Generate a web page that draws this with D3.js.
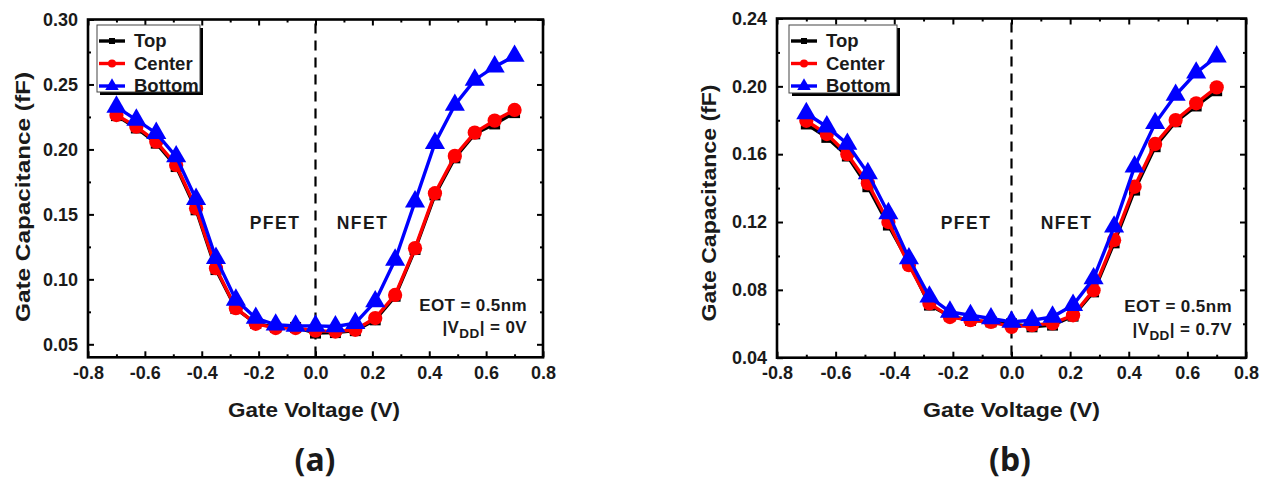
<!DOCTYPE html>
<html><head><meta charset="utf-8">
<script src="https://cdn.jsdelivr.net/npm/d3@7"></script>
<style>body{margin:0;background:#fff}svg{display:block}</style>
</head><body><svg id="c" width="1266" height="481"></svg>
<script>
// ---------- data ----------
const voltages = [-0.70,-0.63,-0.56,-0.49,-0.42,-0.35,-0.28,-0.21,-0.14,-0.07,0.00,0.07,0.14,0.21,0.28,0.35,0.42,0.49,0.56,0.63,0.70];
const seriesNames = ["Top","Center","Bottom"];

// panel (a): |VDD| = 0V
const topA    = [0.226,0.2165,0.2048,0.1868,0.1535,0.1075,0.0775,0.0660,0.0630,0.0630,0.0586,0.0590,0.0605,0.0688,0.0870,0.1230,0.1650,0.1935,0.2120,0.2196,0.2283];
const centerA = [0.2265,0.2175,0.2060,0.1880,0.1548,0.1086,0.0778,0.0658,0.0625,0.0625,0.0605,0.0598,0.0612,0.0702,0.0880,0.1240,0.1663,0.1950,0.2129,0.2222,0.2304];
const bottomA = [0.2327,0.2227,0.2125,0.1945,0.1617,0.1163,0.0842,0.0702,0.0650,0.0642,0.0642,0.0637,0.0663,0.0829,0.1150,0.1598,0.2048,0.2342,0.2535,0.2637,0.2719];

// panel (b): |VDD| = 0.7V
const topB    = [0.1778,0.1699,0.1589,0.1408,0.1182,0.0960,0.0710,0.0645,0.0620,0.0611,0.0600,0.0582,0.0592,0.0645,0.0788,0.1077,0.1388,0.1644,0.1791,0.1884,0.1974];
const centerB = [0.1797,0.1719,0.1600,0.1428,0.1200,0.0946,0.0720,0.0640,0.0621,0.0611,0.0582,0.0592,0.0602,0.0650,0.0798,0.1093,0.1408,0.1660,0.1801,0.1900,0.1994];
const bottomB = [0.1840,0.1762,0.1660,0.1487,0.1251,0.0985,0.0759,0.0670,0.0650,0.0631,0.0611,0.0621,0.0641,0.0710,0.0867,0.1172,0.1526,0.1782,0.1949,0.2080,0.2175];

// tick labels
const xTicks  = [-0.8,-0.6,-0.4,-0.2,0.0,0.2,0.4,0.6,0.8];
const yTicksA = [0.05,0.10,0.15,0.20,0.25,0.30];
const yTicksB = [0.04,0.08,0.12,0.16,0.20,0.24];

const xLabel = "Gate Voltage (V)";
const yLabel = "Gate Capacitance (fF)";

// ---------- drawing ----------
const svg = d3.select("#c");
const FONT = "'Liberation Sans', Arial, sans-serif";
const TXT = "#1a1a1a";
const colors = ["#000000","#ff0000","#0000ff"];
const symbols = [d3.symbolSquare, d3.symbolCircle, d3.symbolTriangle];
const symSize = [120, 160, 175];
const legSize = [36, 50, 80];
const fmt = d => d.toFixed(1).replace("\u2212", "-");
const fmt2 = d => d.toFixed(2);

function drawPanel(cfg) {
  const g = svg.append("g");
  const x = d3.scaleLinear().domain([-0.8, 0.8]).range([cfg.left, cfg.right]);
  const y = d3.scaleLinear().domain(cfg.yDomain).range([cfg.bottom, cfg.top]);
  const W = cfg.right - cfg.left, H = cfg.bottom - cfg.top;

  const xMinor = d3.range(-0.7, 0.8, 0.2);
  const yStep = cfg.yTicks[1] - cfg.yTicks[0];
  const yMinor = cfg.yTicks.slice(0, -1).map(v => v + yStep / 2);

  const axB = d3.axisBottom(x).tickValues(cfg.xTicks).tickSize(-6).tickPadding(9).tickFormat(fmt);
  const axT = d3.axisTop(x).tickValues(cfg.xTicks).tickSize(-6).tickFormat("");
  const axL = d3.axisLeft(y).tickValues(cfg.yTicks).tickSize(-6).tickPadding(10).tickFormat(fmt2);
  const axR = d3.axisRight(y).tickValues(cfg.yTicks).tickSize(-6).tickFormat("");
  const mB = d3.axisBottom(x).tickValues(xMinor).tickSize(-3).tickFormat("");
  const mT = d3.axisTop(x).tickValues(xMinor).tickSize(-3).tickFormat("");
  const mL = d3.axisLeft(y).tickValues(yMinor).tickSize(-3).tickFormat("");
  const mR = d3.axisRight(y).tickValues(yMinor).tickSize(-3).tickFormat("");

  const axes = [
    [axB, `translate(0,${cfg.bottom})`], [mB, `translate(0,${cfg.bottom})`],
    [axT, `translate(0,${cfg.top})`], [mT, `translate(0,${cfg.top})`],
    [axL, `translate(${cfg.left},0)`], [mL, `translate(${cfg.left},0)`],
    [axR, `translate(${cfg.right},0)`], [mR, `translate(${cfg.right},0)`]
  ];
  axes.forEach(([ax, tr]) => {
    const a = g.append("g").attr("transform", tr).call(ax);
    a.select(".domain").remove();
    a.selectAll("line").attr("stroke", "#000").attr("stroke-width", 2);
    a.selectAll("text").attr("font-family", FONT).attr("font-weight", "bold")
      .attr("font-size", 18).attr("fill", TXT);
  });

  // dashed divider at 0 V
  g.append("line").attr("x1", x(0)).attr("x2", x(0))
    .attr("y1", cfg.top + 4).attr("y2", cfg.bottom)
    .attr("stroke", "#000").attr("stroke-width", 2.2).attr("stroke-dasharray", "10,7");

  // series
  const line = d3.line().x((d, i) => x(voltages[i])).y(d => y(d));
  cfg.series.forEach((vals, si) => {
    g.append("path").datum(vals).attr("d", line).attr("fill", "none")
      .attr("stroke", colors[si]).attr("stroke-width", 3.4);
    g.selectAll(null).data(vals).enter().append("path")
      .attr("d", d3.symbol().type(symbols[si]).size(symSize[si]))
      .attr("transform", (d, i) => `translate(${x(voltages[i])},${y(d)})`)
      .attr("fill", colors[si]);
  });

  // frame
  g.append("rect").attr("x", cfg.left).attr("y", cfg.top).attr("width", W).attr("height", H)
    .attr("fill", "none").attr("stroke", "#000").attr("stroke-width", 2.6);

  // legend
  const L = cfg.legend;
  g.append("rect").attr("x", L.x + 3).attr("y", L.y + 3).attr("width", L.w).attr("height", L.h).attr("fill", "#000");
  g.append("rect").attr("x", L.x).attr("y", L.y).attr("width", L.w).attr("height", L.h)
    .attr("fill", "#fff").attr("stroke", "#444").attr("stroke-width", 1);
  seriesNames.forEach((name, si) => {
    const ly = L.y + 16 + si * 22.5;
    g.append("line").attr("x1", L.x + 2).attr("x2", L.x + 28).attr("y1", ly).attr("y2", ly)
      .attr("stroke", colors[si]).attr("stroke-width", 3.4);
    g.append("path").attr("d", d3.symbol().type(symbols[si]).size(legSize[si])())
      .attr("transform", `translate(${L.x + 15},${ly})`).attr("fill", colors[si]);
    g.append("text").attr("x", L.x + 37).attr("y", ly + 6).text(name)
      .attr("font-family", FONT).attr("font-weight", "bold").attr("font-size", 18.5).attr("fill", TXT);
  });

  // region labels
  const lab = (tx, ty, s, size, anchor, ls) => g.append("text").attr("x", tx).attr("y", ty).text(s)
    .attr("font-family", FONT).attr("font-weight", "bold").attr("font-size", size)
    .attr("text-anchor", anchor).attr("letter-spacing", ls || 0).attr("fill", TXT);
  lab(cfg.pfetX, 229, "PFET", 17.5, "middle", 1.5);
  lab(cfg.nfetX, 229, "NFET", 17.5, "middle", 1.5);
  lab(cfg.noteRight, cfg.eotY, "EOT = 0.5nm", 17, "end", 0.4);
  const v = g.append("text").attr("x", cfg.noteRight).attr("y", cfg.vddY)
    .attr("font-family", FONT).attr("font-weight", "bold").attr("font-size", 17)
    .attr("text-anchor", "end").attr("letter-spacing", 0.4).attr("fill", TXT);
  v.append("tspan").text("|V");
  v.append("tspan").text("DD").attr("font-size", 13.5).attr("dy", 5);
  v.append("tspan").text(`| = ${cfg.vdd}`).attr("dy", -5);

  // axis titles
  g.append("text").attr("x", cfg.xTitleX).attr("y", 417).text(xLabel)
    .attr("font-family", FONT).attr("font-weight", "bold").attr("font-size", 21)
    .attr("text-anchor", "middle").attr("fill", TXT)
    .attr("textLength", cfg.xTitleLen).attr("lengthAdjust", "spacingAndGlyphs");
  g.append("text").attr("transform", `translate(${cfg.yTitleX},${cfg.yTitleY}) rotate(-90)`).text(yLabel)
    .attr("font-family", FONT).attr("font-weight", "bold").attr("font-size", 21)
    .attr("text-anchor", "middle").attr("fill", TXT)
    .attr("textLength", cfg.yTitleLen).attr("lengthAdjust", "spacingAndGlyphs");

  // panel tag
  g.append("text").attr("x", cfg.tagX).attr("y", 471).text(cfg.tag)
    .attr("font-family", "'Noto Sans', 'Open Sans', sans-serif").attr("font-weight", "bold")
    .attr("font-size", 32).attr("text-anchor", "middle").attr("fill", TXT);
}

drawPanel({
  left: 88, right: 543, top: 19.5, bottom: 357.3, yDomain: [0.04, 0.30],
  xTicks: xTicks, yTicks: yTicksA, series: [topA, centerA, bottomA],
  legend: {x: 97, y: 25, w: 103, h: 67},
  pfetX: 275, nfetX: 362.5, noteRight: 527, eotY: 311, vddY: 333, vdd: "0V",
  xTitleX: 314, xTitleLen: 172, yTitleX: 30, yTitleY: 197, yTitleLen: 250,
  tag: "(a)", tagX: 315
});
drawPanel({
  left: 777, right: 1246, top: 18.5, bottom: 357.7, yDomain: [0.04, 0.24],
  xTicks: xTicks, yTicks: yTicksB, series: [topB, centerB, bottomB],
  legend: {x: 789, y: 25, w: 108, h: 68},
  pfetX: 966, nfetX: 1066.5, noteRight: 1232, eotY: 312, vddY: 335, vdd: "0.7V",
  xTitleX: 1011.5, xTitleLen: 177, yTitleX: 716, yTitleY: 203, yTitleLen: 237,
  tag: "(b)", tagX: 1010
});
</script></body></html>
